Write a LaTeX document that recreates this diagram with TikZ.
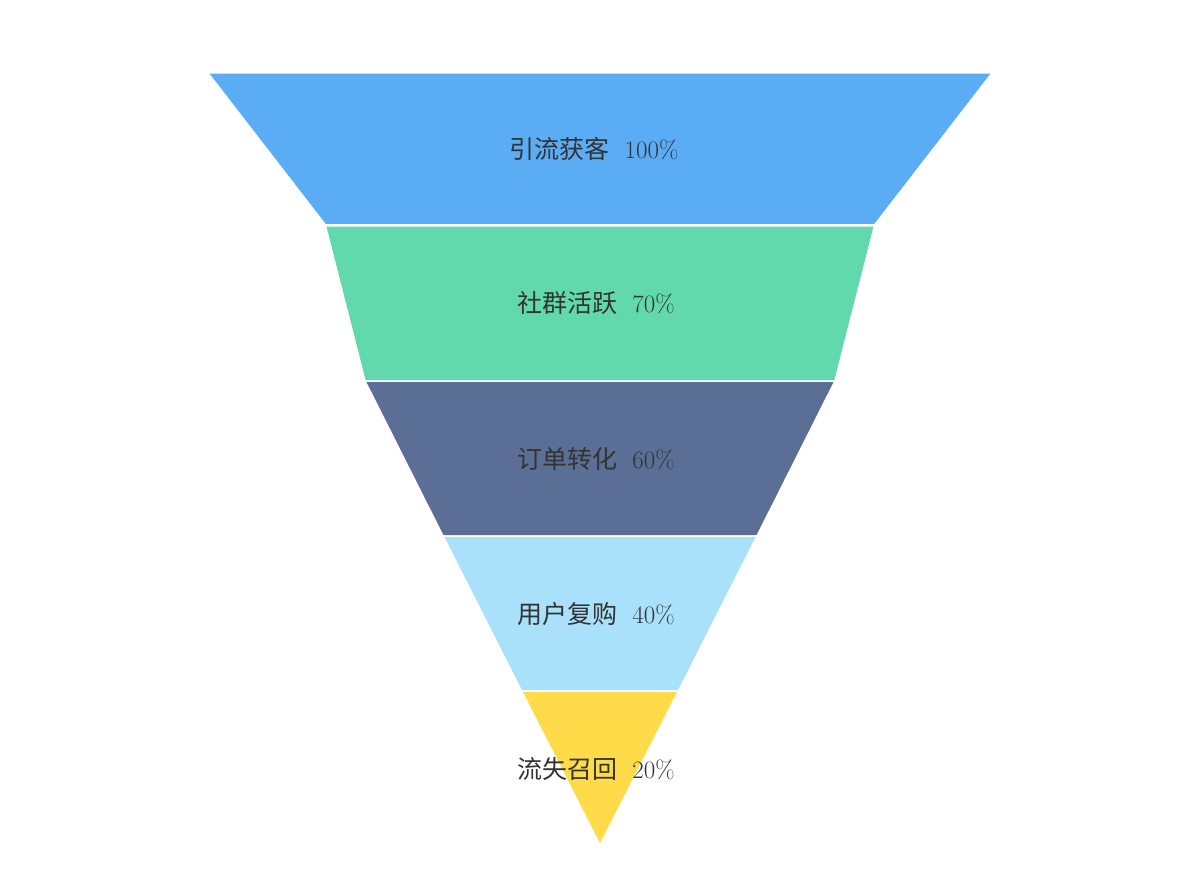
\documentclass[tikz,border=0pt]{standalone}
\usepackage{fontspec}
\newfontfamily\cjk{Noto Sans CJK SC}
\definecolor{c1}{HTML}{5AADF5}
\definecolor{c2}{HTML}{62D9AD}
\definecolor{c3}{HTML}{5B6E96}
\definecolor{c4}{HTML}{A9E0FA}
\definecolor{c5}{HTML}{FFDB4A}
\definecolor{tx}{HTML}{333333}
\begin{document}
\begin{tikzpicture}[x=1pt,y=-1pt,
  seg/.style={draw=white,line width=1.5pt,line join=miter},
  lab/.style={text=tx,font=\fontsize{25}{30}\selectfont}]
\useasboundingbox (0,0) rectangle (1200,896);
\fill[white] (0,0) rectangle (1200,896);
\filldraw[seg,fill=c1] (208,73) -- (992,73) -- (874.5,225) -- (325.5,225) -- cycle;
\filldraw[seg,fill=c2] (325.5,226) -- (874.5,226) -- (835,381) -- (365,381) -- cycle;
\filldraw[seg,fill=c3] (365,381) -- (835,381) -- (757,536) -- (443,536) -- cycle;
\filldraw[seg,fill=c4] (443,536) -- (757,536) -- (678.5,691) -- (521.5,691) -- cycle;
\filldraw[seg,fill=c5] (521.5,691) -- (678.5,691) -- (600,845) -- cycle;
\node[lab] (l1) at (594,149) {{\cjk 引流获客}\ \ 100\%};
\node[lab] (l2) at (596,303) {{\cjk 社群活跃}\ \ 70\%};
\node[lab] (l3) at (596,459) {{\cjk 订单转化}\ \ 60\%};
\node[lab] (l4) at (596,614) {{\cjk 用户复购}\ \ 40\%};
\node[lab] (l5) at (596,769) {{\cjk 流失召回}\ \ 20\%};
\end{tikzpicture}
\end{document}
